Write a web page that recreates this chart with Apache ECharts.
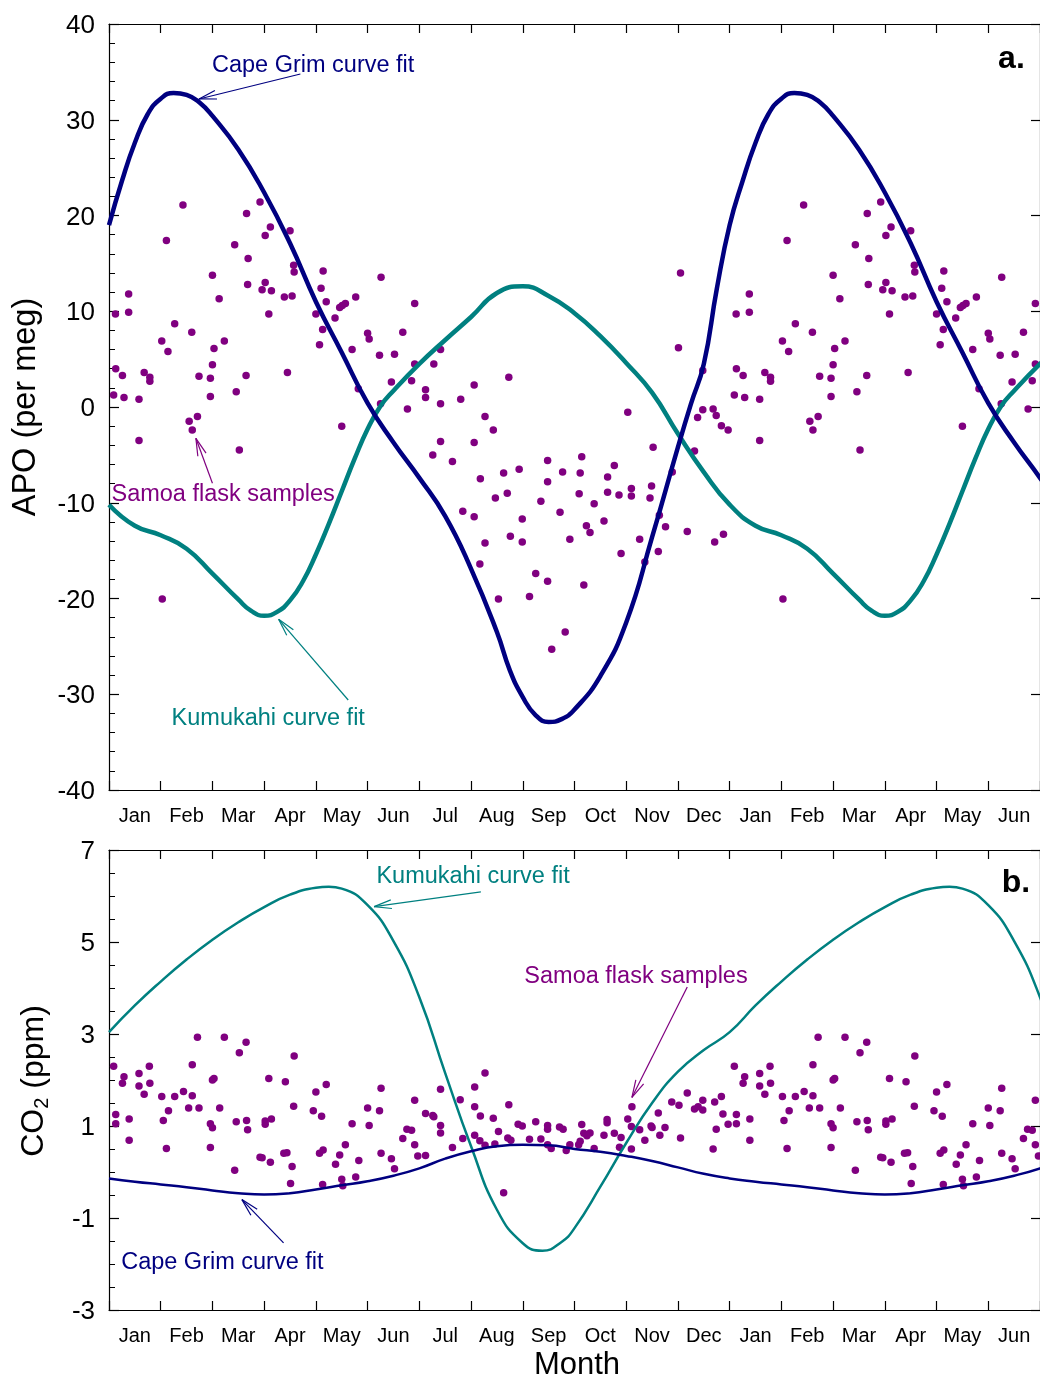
<!DOCTYPE html>
<html><head><meta charset="utf-8">
<script src="https://cdn.jsdelivr.net/npm/echarts@6/dist/echarts.min.js"></script>
<style>html,body{margin:0;padding:0;background:#fff}#c{width:1040px;height:1376px}</style>
</head><body><div id="c"></div>
<script>
// ---------- DATA (x = month position from start of January, one seasonal cycle) ----------
const months = ['Jan','Feb','Mar','Apr','May','Jun','Jul','Aug','Sep','Oct','Nov','Dec','Jan','Feb','Mar','Apr','May','Jun'];

const capeGrimAPO = [[0,19.0],[0.25,23.6],[0.5,27.6],[0.75,30.6],[1.0,32.2],[1.25,32.8],[1.5,32.6],[1.75,31.8],[2.0,30.4],[2.5,26.9],[3.0,22.4],[3.5,17.1],[4.0,11.0],[4.5,5.7],[5.0,0.4],[5.5,-3.7],[6.0,-7.4],[6.5,-11.4],[7.0,-16.9],[7.5,-23.5],[7.75,-27.5],[8.0,-30.3],[8.25,-32.2],[8.5,-32.9],[8.75,-32.6],[9.0,-31.6],[9.5,-28.1],[10.0,-22.5],[10.5,-13.6],[11.0,-4.2],[11.25,0.3],[11.5,4.5],[11.75,12.3],[12.0,19.0]];

const kumukahiAPO = [[0,-10.2],[0.5,-12.4],[1.0,-13.4],[1.5,-14.8],[2.0,-17.4],[2.5,-20.1],[2.75,-21.3],[3.0,-21.8],[3.25,-21.4],[3.5,-20.2],[3.75,-18.2],[4.0,-15.4],[4.25,-12.2],[4.5,-8.8],[4.75,-5.4],[5.0,-2.3],[5.25,0.1],[5.5,1.7],[6.0,4.5],[6.5,7.0],[7.0,9.4],[7.5,11.9],[8.0,12.6],[8.5,11.6],[9.0,9.8],[9.5,7.4],[10.0,4.6],[10.5,1.5],[11.0,-2.8],[11.5,-6.8],[12.0,-10.2]];

const samoaAPO = [[1.43,21.1],[1.11,17.4],[0.38,11.8],[0.125,9.7],[0.38,9.9],[1.27,8.7],[1.6,7.8],[1.02,6.9],[1.14,5.8],[0.13,4.0],[0.26,3.3],[0.68,3.6],[0.79,3.1],[0.79,2.7],[0.09,1.25],[0.29,1.0],[0.58,0.8],[0.58,-3.5],[1.55,-1.5],[1.71,-1.0],[1.61,-2.4],[1.74,3.2],[1.96,3.0],[2.0,4.4],[2.03,6.1],[2.23,6.9],[1.96,1.1],[2.0,13.75],[2.13,11.3],[2.46,1.6],[2.65,3.3],[2.52,-4.5],[2.43,16.95],[2.66,20.2],[2.69,15.5],[2.68,12.8],[2.92,21.4],[3.02,17.9],[2.96,12.25],[3.02,13.0],[1.03,-20.05],
[3.12,18.8],[3.5,18.4],[3.57,14.8],[3.58,14.1],[3.14,12.15],[3.39,11.5],[3.54,11.6],[3.09,9.7],[3.45,3.6],[4.14,14.2],[4.1,12.4],[4.2,11.0],[4.0,9.7],[4.13,8.1],[4.07,6.5],[4.37,9.3],[4.46,10.4],[4.51,10.6],[4.57,10.8],[4.77,11.5],[5.26,13.55],[4.7,6.0],[5.0,7.7],[5.03,7.1],[5.23,5.4],[5.52,5.5],[5.68,7.8],[5.91,10.8],[5.91,4.5],[5.46,2.6],[5.85,2.75],[4.82,1.9],[5.25,0.35],[5.77,-0.2],[4.5,-2.0],
[6.41,6.0],[6.28,4.5],[6.12,1.8],[6.12,1.0],[6.41,0.35],[6.8,0.8],[7.06,2.3],[7.73,3.1],[7.27,-1.0],[7.43,-2.4],[6.41,-3.6],[7.06,-3.7],[6.26,-5.0],[6.64,-5.7],[7.18,-7.5],[7.63,-6.9],[7.93,-6.5],[8.48,-5.6],[8.77,-6.8],[8.48,-7.8],[7.47,-9.5],[7.7,-9.0],[8.35,-9.85],[8.72,-11.0],[6.84,-10.9],[7.06,-11.45],[7.99,-11.7],[7.76,-13.5],[7.99,-14.1],[7.27,-14.2],[8.91,-13.8],[7.17,-16.4],[8.25,-17.4],[8.48,-18.2],[7.53,-20.05],[8.13,-19.8],[8.82,-23.5],[8.56,-25.3],
[11.05,14.0],[11.01,6.2],[11.48,3.8],[11.48,-0.3],[11.68,-0.2],[11.38,-1.1],[11.74,-0.9],[11.84,-1.95],[11.97,-2.4],[10.03,-0.56],[10.52,-4.2],[11.32,-4.6],[9.14,-5.2],[9.77,-6.1],[9.11,-6.9],[9.64,-7.3],[10.89,-6.8],[9.09,-9.05],[9.64,-8.9],[9.86,-9.2],[10.1,-8.5],[10.1,-9.3],[10.49,-8.25],[10.46,-9.5],[9.38,-10.1],[10.64,-11.3],[9.23,-12.4],[9.3,-13.1],[9.57,-11.9],[10.76,-12.5],[11.18,-13.0],[11.88,-13.3],[11.71,-14.1],[10.26,-13.8],[9.9,-15.3],[10.62,-15.1],[10.36,-16.2],[9.18,-18.6]];

const capeGrimCO2 = [[0,-0.14],[0.5,-0.21],[1.0,-0.27],[1.5,-0.33],[2.0,-0.40],[2.5,-0.46],[3.0,-0.49],[3.5,-0.46],[4.0,-0.38],[4.5,-0.29],[5.0,-0.20],[5.5,-0.08],[6.0,0.08],[6.5,0.29],[7.0,0.45],[7.5,0.56],[8.0,0.59],[8.5,0.58],[9.0,0.50],[9.5,0.44],[10.0,0.35],[10.5,0.24],[11.0,0.10],[11.5,-0.04],[12.0,-0.14]];

const kumukahiCO2 = [[0,3.04],[0.5,3.62],[1.0,4.14],[1.5,4.62],[2.0,5.05],[2.5,5.43],[3.0,5.76],[3.5,6.03],[4.0,6.18],[4.25,6.20],[4.5,6.16],[5.0,5.80],[5.5,5.02],[6.0,3.80],[6.5,2.15],[7.0,0.56],[7.5,-0.82],[8.0,-1.55],[8.38,-1.71],[8.75,-1.52],[9.0,-1.22],[9.5,-0.32],[10.0,0.63],[10.5,1.50],[11.0,2.18],[11.5,2.65],[12.0,3.04]];

const samoaCO2 = [[0.09,2.30],[0.78,2.30],[1.61,2.33],[1.71,2.93],[2.23,2.93],[2.65,2.82],[2.52,2.59],[3.58,2.52],
[0.29,2.07],[0.26,1.93],[0.58,2.14],[0.58,1.87],[0.79,1.93],[0.68,1.69],[2.0,2.0],[2.03,2.03],[3.09,2.03],[3.41,1.96],[4.0,1.74],[4.2,1.90],
[1.02,1.64],[1.27,1.64],[1.44,1.75],[1.61,1.66],[1.54,1.39],[1.74,1.39],[2.14,1.39],[3.57,1.43],[3.95,1.33],[4.11,1.21],[5.26,1.82],[5.0,1.39],[5.23,1.33],[5.91,1.56],
[0.13,1.25],[0.13,1.05],[0.39,1.15],[0.39,0.69],[1.05,1.12],[1.15,1.33],[1.11,0.51],[1.96,1.05],[2.0,0.96],[1.96,0.53],[2.46,1.09],[2.66,1.12],[2.68,0.92],[3.02,1.11],[3.02,1.04],[3.14,1.15],
[2.43,0.04],[2.92,0.32],[2.96,0.31],[3.12,0.21],[3.38,0.41],[3.44,0.42],[3.54,0.12],[3.51,-0.25],[4.07,0.41],[4.14,0.48],[4.38,0.17],[4.46,0.37],[4.57,0.59],[4.83,0.25],[4.13,-0.27],[4.5,-0.16],[4.52,-0.30],[4.77,-0.11],
[4.7,1.05],[5.03,1.01],[5.26,0.41],[5.46,0.29],[5.52,0.07],[5.68,0.73],[5.76,0.93],[5.85,0.91],[5.91,0.59],[5.97,0.35],
[7.27,2.15],[6.41,1.80],[7.07,1.85],[6.79,1.57],[7.07,1.42],[7.73,1.46],[6.12,1.27],[6.26,1.23],[6.28,1.20],[7.18,1.22],[7.43,1.17],[6.12,0.36],[6.41,1.01],[6.41,0.85],[6.64,0.53],[6.84,0.73],[7.07,0.80],[7.17,0.68],[7.27,0.58],[7.46,0.61],[7.53,0.88],[7.71,0.74],[7.77,0.69],[7.63,-0.45],[7.91,1.04],[7.99,1.0],[8.13,0.71],[8.25,1.09],[8.35,0.72],[8.48,1.01],[8.48,0.93],[8.48,0.59],[8.55,0.51],[8.71,0.98],[8.78,0.93],[8.84,0.47],[8.91,0.59],[9.08,0.59],[9.11,0.67],[9.14,1.03],[9.18,0.84],[9.24,0.79],[9.3,0.85],[9.38,0.51],[9.57,0.80],[9.63,1.14],[9.63,1.07],[9.77,0.84],[9.9,0.75],[9.87,0.54],[10.03,1.15],[10.11,1.42],[10.1,0.99],[10.1,0.5],[10.26,0.92],[10.36,0.69],[10.48,1.0],[10.5,0.97],[10.62,1.28],[10.65,0.80],[10.75,0.97],[10.88,1.52],[11.02,1.45],[11.05,0.74],[11.18,1.72],[11.32,1.37],[11.39,1.42],[11.48,1.56],[11.48,1.35],[11.71,1.52],[11.84,1.64],[11.87,1.26],[11.74,0.93],[11.68,0.50],[11.97,1.04]];

// ---------- annotation config (data coordinates) ----------
const annotations = [
  {panel:0, text:'Cape Grim curve fit',  color:'#000080', at:[1.99,35.87], from:[3.70,34.78], to:[1.74,32.17]},
  {panel:0, text:'Samoa flask samples',  color:'#800080', at:[0.048,-8.88], from:[2.0,-7.97], to:[1.68,-3.27]},
  {panel:0, text:'Kumukahi curve fit',   color:'#008080', at:[1.21,-32.34], from:[4.625,-30.6], to:[3.28,-22.17]},
  {panel:1, text:'Kumukahi curve fit',   color:'#008080', at:[5.17,6.47], from:[7.19,6.09], to:[5.125,5.77]},
  {panel:1, text:'Samoa flask samples',  color:'#800080', at:[8.03,4.30], from:[11.18,4.02], to:[10.11,1.62]},
  {panel:1, text:'Cape Grim curve fit',  color:'#000080', at:[0.235,-1.93], from:[3.375,-1.54], to:[2.57,-0.60]}
];
const panelLabels = [{panel:0, text:'a.', at:[17.19,36.34]}, {panel:1, text:'b.', at:[17.26,6.27]}];

// ---------- build the 18-month display (cycle repeated) ----------
function cycleLine(arr){ return arr.concat(arr.filter(p=>p[0]>0 && p[0]<=6.5).map(p=>[p[0]+12,p[1]])); }
function cyclePts(arr){ return arr.concat(arr.filter(p=>p[0]<6.1).map(p=>[p[0]+12,p[1]])); }

const FONT = "'Liberation Sans', Arial, Helvetica, sans-serif";
const BLACK = {color:'#000', width:1.2};

function valueX(g, pos){
  return {type:'value', gridIndex:g, position:pos, min:0, max:18, interval:1,
    axisLine:{show:true, onZero:false, lineStyle:BLACK},
    axisTick:{show:true, inside:true, length:9, lineStyle:BLACK},
    axisLabel:{show:false}, splitLine:{show:false}};
}
function monthX(g){
  return {type:'category', gridIndex:g, position:'bottom', data:months, boundaryGap:true,
    axisLine:{show:false}, axisTick:{show:false}, splitLine:{show:false},
    axisLabel:{show:true, interval:0, margin:16, fontSize:20, color:'#000', fontFamily:FONT}};
}
function leftY(g, min, max, interval, minor){
  return {type:'value', gridIndex:g, position:'left', min, max, interval,
    axisLine:{show:true, onZero:false, lineStyle:BLACK},
    axisTick:{show:true, inside:true, length:10, lineStyle:BLACK},
    minorTick:{show:true, splitNumber:minor, length:6, lineStyle:{color:'#000', width:1}},
    axisLabel:{show:true, margin:14, color:'#000', formatter:v=>'{v|'+v+'}',
      rich:{v:{fontSize:26, fontFamily:FONT, color:'#000', padding:[4,0,0,0]}}},
    splitLine:{show:false}, minorSplitLine:{show:false}};
}
function rightY(g, min, max, interval){
  return {type:'value', gridIndex:g, position:'right', min, max, interval,
    axisLine:{show:true, onZero:false, lineStyle:BLACK},
    axisTick:{show:true, inside:true, length:9, lineStyle:BLACK},
    axisLabel:{show:false}, splitLine:{show:false}};
}

const chart = echarts.init(document.getElementById('c'), null, {renderer:'canvas'});
chart.setOption({
  animation:false,
  backgroundColor:'#fff',
  grid:[
    {left:109, top:24, width:936, height:766},
    {left:109, top:850, width:936, height:460}
  ],
  xAxis:[valueX(0,'bottom'), valueX(0,'top'), monthX(0), valueX(1,'bottom'), valueX(1,'top'), monthX(1)],
  yAxis:[leftY(0,-40,40,10,5), rightY(0,-40,40,10), leftY(1,-3,7,2,4), rightY(1,-3,7,2)],
  series:[
    {type:'scatter', name:'Samoa APO', xAxisIndex:0, yAxisIndex:0, data:cyclePts(samoaAPO), symbolSize:7.5, itemStyle:{color:'#800080', opacity:1}, z:2, silent:true},
    {type:'line', name:'Kumukahi APO', xAxisIndex:0, yAxisIndex:0, data:cycleLine(kumukahiAPO), smooth:true, showSymbol:false, lineStyle:{color:'#008080', width:4.5}, z:3, silent:true},
    {type:'line', name:'Cape Grim APO', xAxisIndex:0, yAxisIndex:0, data:cycleLine(capeGrimAPO), smooth:true, showSymbol:false, lineStyle:{color:'#000080', width:4.5}, z:4, silent:true},
    {type:'scatter', name:'Samoa CO2', xAxisIndex:3, yAxisIndex:2, data:cyclePts(samoaCO2), symbolSize:7.5, itemStyle:{color:'#800080', opacity:1}, z:2, silent:true},
    {type:'line', name:'Kumukahi CO2', xAxisIndex:3, yAxisIndex:2, data:cycleLine(kumukahiCO2), smooth:true, showSymbol:false, lineStyle:{color:'#008080', width:2.5}, z:3, silent:true},
    {type:'line', name:'Cape Grim CO2', xAxisIndex:3, yAxisIndex:2, data:cycleLine(capeGrimCO2), smooth:true, showSymbol:false, lineStyle:{color:'#000080', width:2.5}, z:4, silent:true}
  ]
});

// ---------- annotations, axis titles ----------
const finders = [{xAxisIndex:0, yAxisIndex:0}, {xAxisIndex:3, yAxisIndex:2}];
function px(panel, pt){ return chart.convertToPixel(finders[panel], pt); }
const g = [];
annotations.forEach(a=>{
  const p = px(a.panel, a.at), s = px(a.panel, a.from), t = px(a.panel, a.to);
  g.push({type:'text', x:p[0], y:p[1]+2, z:50, style:{text:a.text, fill:a.color, font:'23.5px '+FONT, align:'left', verticalAlign:'middle'}});
  g.push({type:'line', z:50, shape:{x1:s[0], y1:s[1], x2:t[0], y2:t[1]}, style:{stroke:a.color, lineWidth:1.2}});
  const dx = s[0]-t[0], dy = s[1]-t[1], L = Math.hypot(dx,dy), ux = dx/L, uy = dy/L;
  const th = 14*Math.PI/180, len = 18;
  [th,-th].forEach(an=>{
    const rx = ux*Math.cos(an) - uy*Math.sin(an), ry = ux*Math.sin(an) + uy*Math.cos(an);
    g.push({type:'line', z:50, shape:{x1:t[0], y1:t[1], x2:t[0]+rx*len, y2:t[1]+ry*len}, style:{stroke:a.color, lineWidth:1.2}});
  });
});
panelLabels.forEach(l=>{
  const p = px(l.panel, l.at);
  g.push({type:'text', x:p[0], y:p[1], z:50, style:{text:l.text, fill:'#000', font:'bold 32px '+FONT, align:'left', verticalAlign:'middle'}});
});
g.push({type:'text', x:26, y:407, rotation:Math.PI/2, z:50, style:{text:'APO (per meg)', fill:'#000', font:'32.5px '+FONT, align:'center', verticalAlign:'middle'}});
g.push({type:'text', x:34, y:1081, rotation:Math.PI/2, z:50, style:{text:'{m|CO}{s|2}{m| (ppm)}', fill:'#000', align:'center', verticalAlign:'middle',
  rich:{m:{fontSize:32, fontFamily:FONT, fill:'#000'}, s:{fontSize:20, fontFamily:FONT, fill:'#000', padding:[16,0,0,0]}}}});
g.push({type:'text', x:577, y:1365, z:50, style:{text:'Month', fill:'#000', font:'31px '+FONT, align:'center', verticalAlign:'middle'}});
chart.setOption({graphic:g});
</script>
</body></html>
